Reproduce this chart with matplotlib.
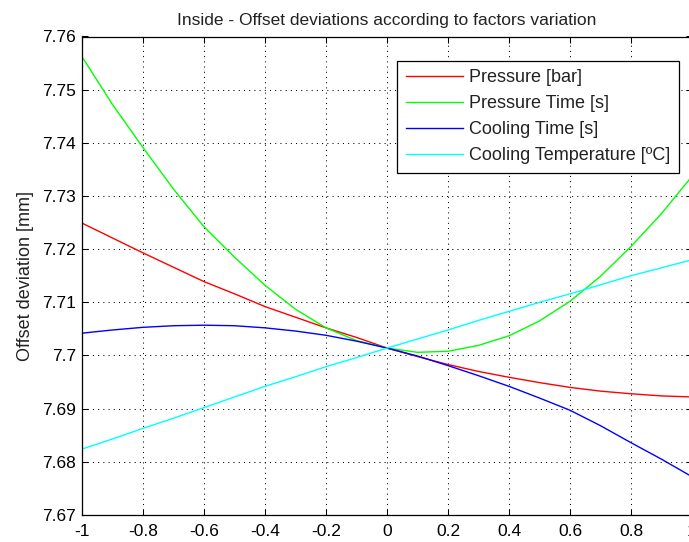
import numpy as np
import matplotlib
matplotlib.use("Agg")
import matplotlib.pyplot as plt

# Factor level (coded units) and the offset deviation for each factor
x_levels = [-1.0, -0.9, -0.8, -0.7, -0.6, -0.5, -0.4, -0.3, -0.2, -0.1, 0.0,
            0.1, 0.2, 0.3, 0.4, 0.5, 0.6, 0.7, 0.8, 0.9, 1.0]

pressure = [7.7249, 7.7221, 7.7193, 7.7166, 7.7139, 7.7116, 7.7092, 7.7072,
            7.7052, 7.7034, 7.7014, 7.6998, 7.6983, 7.6970, 7.6959, 7.6949,
            7.6940, 7.6933, 7.6928, 7.6924, 7.6922]

pressure_time = [7.7562, 7.7472, 7.7391, 7.7313, 7.7242, 7.7185, 7.7132, 7.7087,
                 7.7052, 7.7028, 7.7014, 7.7006, 7.7008, 7.7019, 7.7037, 7.7065,
                 7.7102, 7.7149, 7.7205, 7.7267, 7.7337]

cooling_time = [7.7042, 7.7048, 7.7053, 7.7056, 7.7057, 7.7056, 7.7052, 7.7046,
                7.7038, 7.7027, 7.7014, 7.6999, 7.6981, 7.6962, 7.6942, 7.6920,
                7.6897, 7.6868, 7.6836, 7.6805, 7.6772]

cooling_temp = [7.6824, 7.6843, 7.6863, 7.6882, 7.6902, 7.6922, 7.6942, 7.6960,
                7.6979, 7.6996, 7.7014, 7.7031, 7.7048, 7.7066, 7.7083, 7.7100,
                7.7116, 7.7133, 7.7150, 7.7165, 7.7180]

series_labels = ["Pressure [bar]", "Pressure Time [s]", "Cooling Time [s]",
                 "Cooling Temperature [ºC]"]

x_ticks = [-1.0, -0.8, -0.6, -0.4, -0.2, 0.0, 0.2, 0.4, 0.6, 0.8, 1.0]
x_tick_labels = ["-1", "-0.8", "-0.6", "-0.4", "-0.2", "0", "0.2", "0.4",
                 "0.6", "0.8", "1"]
y_ticks = [7.67, 7.68, 7.69, 7.70, 7.71, 7.72, 7.73, 7.74, 7.75, 7.76]
y_tick_labels = ["7.67", "7.68", "7.69", "7.7", "7.71", "7.72", "7.73",
                 "7.74", "7.75", "7.76"]

plt.rcParams["font.family"] = ["Liberation Sans", "DejaVu Sans"]
plt.rcParams["lines.scale_dashes"] = False

W, H = 689, 542
fig = plt.figure(figsize=(W / 100, H / 100), dpi=100)
fig.patch.set_facecolor("white")

# axes box in pixels: left 82, right 692, top 36.5, bottom 515
ax = fig.add_axes([82 / W, (H - 515) / H, 610 / W, 478.5 / H])

colors = ["#ff0000", "#00ff00", "#0000ff", "#00ffff"]
for vals, col, lab in zip([pressure, pressure_time, cooling_time, cooling_temp],
                          colors, series_labels):
    ax.plot(x_levels, vals, color=col, lw=1.0, label=lab)

ax.set_xlim(-1, 1)
ax.set_ylim(7.67, 7.76)
ax.set_xticks(x_ticks)
ax.set_xticklabels(x_tick_labels)
ax.set_yticks(y_ticks)
ax.set_yticklabels(y_tick_labels)

ax.grid(True, color="black", linestyle=(0, (0.75, 3.0)), linewidth=0.75)
ax.tick_params(direction="in", length=4.5, width=0.75, colors="black",
               labelsize=12.5, top=True, right=True)
ax.tick_params(axis="x", pad=6.3)
ax.tick_params(axis="y", pad=4.3)
for sp in ax.spines.values():
    sp.set_linewidth(0.9)
    sp.set_color("black")

ax.set_title("Inside - Offset deviations according to factors variation",
             fontsize=12.5, pad=8, color="#222222")
ax.set_ylabel("Offset deviation [mm]", fontsize=13, color="#222222")
ax.yaxis.set_label_coords(-0.0787, 0.5)

leg = ax.legend(loc="upper left", bbox_to_anchor=(397 / W, 1 - 60.7 / H),
                bbox_transform=fig.transFigure, borderaxespad=0,
                fontsize=13, frameon=True, fancybox=False, framealpha=1,
                edgecolor="black", handlelength=3.2, handletextpad=0.32,
                labelspacing=0.49, borderpad=0.48)
leg.get_frame().set_linewidth(0.9)
for t in leg.get_texts():
    t.set_color("#222222")

fig.savefig("out.png", dpi=100)
